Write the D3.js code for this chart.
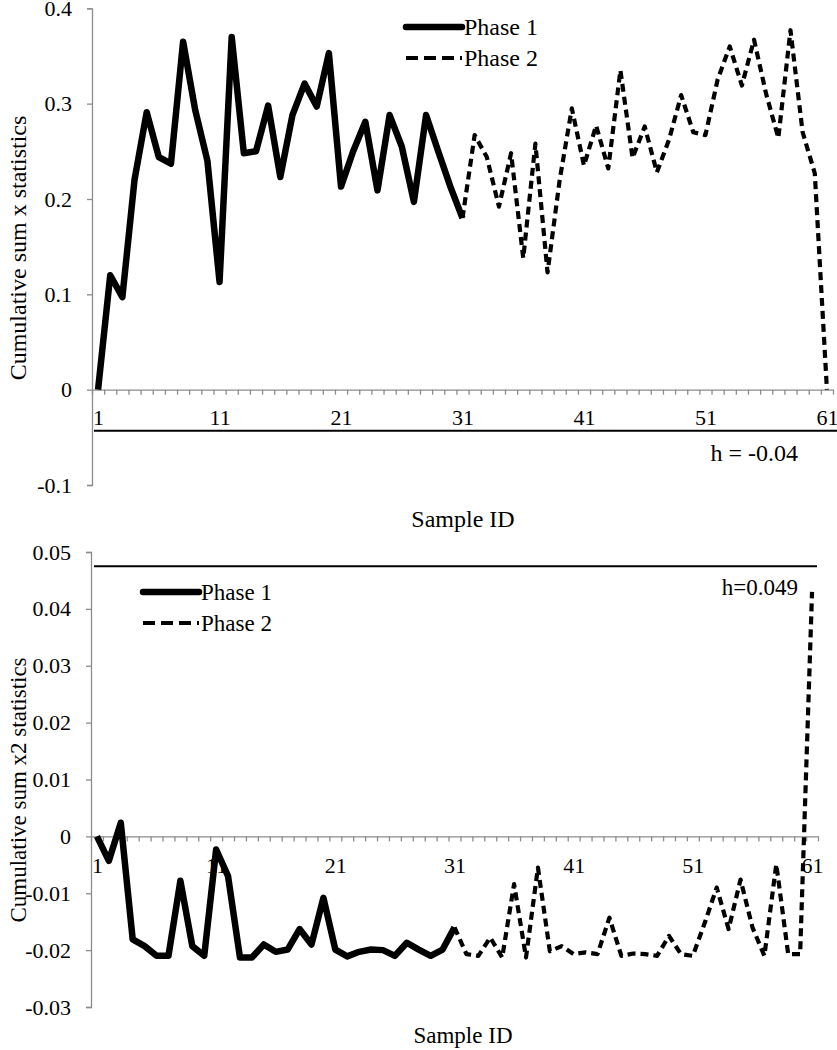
<!DOCTYPE html>
<html><head><meta charset="utf-8">
<script src="https://cdn.jsdelivr.net/npm/d3@7"></script>
<style>body{margin:0;background:#fff}svg{display:block}text{font-family:"Liberation Serif","Times New Roman",serif;fill:#000}</style>
</head><body><svg id="c" width="837" height="1050"></svg>
<script>
// ---------- data ----------
const xTickLabels = [1, 11, 21, 31, 41, 51, 61];
const phase1Ids = d3.range(1, 32);
const phase2Ids = d3.range(32, 62);
// Top chart: cumulative sum x statistics
const sumX_phase1 = [0, 0.12, 0.097, 0.22, 0.291, 0.244, 0.237, 0.365, 0.293, 0.24,
  0.113, 0.37, 0.248, 0.25, 0.298, 0.223, 0.288, 0.321, 0.297, 0.353,
  0.213, 0.25, 0.281, 0.209, 0.288, 0.255, 0.197, 0.288, 0.25, 0.213, 0.18];
const sumX_phase2 = [0.267, 0.244, 0.192, 0.248, 0.138, 0.258, 0.123, 0.22, 0.295,
  0.235, 0.277, 0.232, 0.335, 0.243, 0.276, 0.228, 0.262, 0.309, 0.27,
  0.267, 0.325, 0.36, 0.319, 0.367, 0.31, 0.264, 0.377, 0.27, 0.227, 0];
const sumX_yTicks = [-0.1, 0, 0.1, 0.2, 0.3, 0.4];
const sumX_h = -0.043;
const sumX_hLabel = "h = -0.04";
// Bottom chart: cumulative sum x2 statistics
const sumX2_phase1 = [0, -0.0043, 0.0024, -0.0181, -0.0193, -0.021, -0.021, -0.0078, -0.0193, -0.021,
  -0.0023, -0.007, -0.0213, -0.0213, -0.019, -0.0203, -0.0199, -0.0163, -0.019, -0.0108,
  -0.0199, -0.0211, -0.0203, -0.0199, -0.02, -0.021, -0.0187, -0.0199, -0.021, -0.0199, -0.016];
const sumX2_phase2 = [-0.0207, -0.021, -0.0178, -0.0213, -0.0084, -0.0213, -0.0055, -0.0202, -0.0193,
  -0.0207, -0.0204, -0.0207, -0.0143, -0.021, -0.0206, -0.0207, -0.021, -0.0175, -0.0207,
  -0.021, -0.0152, -0.009, -0.0163, -0.0076, -0.016, -0.021, -0.0049, -0.0207, -0.0207, 0.043];
const sumX2_yTicks = [-0.03, -0.02, -0.01, 0, 0.01, 0.02, 0.03, 0.04, 0.05];
const sumX2_h = 0.0475;
const sumX2_hLabel = "h=0.049";
const legendLabels = ["Phase 1", "Phase 2"];

// ---------- drawing ----------
const svg = d3.select("#c");
const AX = "#8c8c8c";
const TFS = 22;

function fmt(d) { return String(+d.toFixed(3)); }

function chart(cfg) {
  const FS = cfg.fs;
  const g = svg.append("g");
  const x = d3.scaleLinear().domain([0.5, 61.5]).range([cfg.x0, cfg.x1]);
  const y = d3.scaleLinear().domain(cfg.yDomain).range([cfg.yBottom, cfg.yTop]);
  const y0 = y(0);

  // y axis
  const ya = g.append("g").attr("transform", `translate(${cfg.x0},0)`)
    .call(d3.axisLeft(y).tickValues(cfg.yTicks).tickSize(5).tickPadding(15).tickFormat(fmt));
  ya.select(".domain").attr("stroke", AX).attr("stroke-width", 1.3);
  ya.selectAll(".tick line").attr("stroke", AX).attr("stroke-width", 1.3);
  ya.selectAll(".tick text").attr("font-size", TFS).attr("font-family", "Liberation Serif").attr("fill", "#000");

  // x axis (ticks at category boundaries)
  const xa = g.append("g").attr("transform", `translate(0,${y0})`)
    .call(d3.axisBottom(x).tickValues(d3.range(0.5, 62, 1)).tickSize(5).tickSizeOuter(0).tickFormat(""));
  xa.select(".domain").attr("stroke", AX).attr("stroke-width", 1.3);
  xa.selectAll(".tick line").attr("stroke", AX).attr("stroke-width", 1.3);
  // x labels
  const xl = g.append("g").attr("transform", `translate(0,${y0})`)
    .call(d3.axisBottom(x).tickValues(xTickLabels).tickSize(0).tickPadding(cfg.labelPad));
  xl.select(".domain").remove();
  xl.selectAll(".tick text").attr("font-size", TFS).attr("font-family", "Liberation Serif").attr("fill", "#000");

  // h line
  g.append("line").attr("x1", cfg.hx0).attr("x2", cfg.hx1)
    .attr("y1", y(cfg.h)).attr("y2", y(cfg.h)).attr("stroke", "#000").attr("stroke-width", 2);
  g.append("text").attr("x", cfg.hLabelX).attr("y", y(cfg.h) + cfg.hLabelDy)
    .attr("text-anchor", "end").attr("font-size", FS).text(cfg.hLabel);

  const line = d3.line().x(d => x(d[0])).y(d => y(d[1]));
  const p1 = phase1Ids.map((id, i) => [id, cfg.p1[i]]);
  const p2 = [p1[p1.length - 1]].concat(phase2Ids.map((id, i) => [id, cfg.p2[i]]));
  g.append("path").datum(p1).attr("d", line).attr("fill", "none").attr("stroke", "#000")
    .attr("stroke-width", 6.5).attr("stroke-linejoin", "round");
  g.append("path").datum(p2).attr("d", line).attr("fill", "none").attr("stroke", "#000")
    .attr("stroke-width", 4.2).attr("stroke-dasharray", "8,5").attr("stroke-linejoin", "round");

  // legend
  const lg = g.append("g");
  lg.append("line").attr("x1", cfg.legX).attr("x2", cfg.legX + 56).attr("y1", cfg.legY).attr("y2", cfg.legY)
    .attr("stroke", "#000").attr("stroke-width", 6.5).attr("stroke-linecap", "round");
  lg.append("line").attr("x1", cfg.legX).attr("x2", cfg.legX + 56).attr("y1", cfg.legY + 31).attr("y2", cfg.legY + 31)
    .attr("stroke", "#000").attr("stroke-width", 4.2).attr("stroke-dasharray", "12,6");
  legendLabels.forEach((t, i) => {
    lg.append("text").attr("x", cfg.legX + 58).attr("y", cfg.legY + i * 31).attr("dy", "0.35em")
      .attr("font-size", FS).text(t);
  });

  // axis titles
  g.append("text").attr("x", cfg.xTitleX).attr("y", cfg.xTitleY).attr("text-anchor", "middle")
    .attr("font-size", FS).text("Sample ID");
  g.append("text").attr("transform", `translate(${cfg.yTitleX},${cfg.yTitleY}) rotate(-90)`)
    .attr("text-anchor", "middle").attr("font-size", FS).text(cfg.yTitle);
}

chart({
  fs: 24,
  x0: 92, x1: 833, yDomain: [-0.1, 0.4], yBottom: 485, yTop: 8.3, yTicks: sumX_yTicks,
  p1: sumX_phase1, p2: sumX_phase2, h: sumX_h, hLabel: sumX_hLabel,
  hx0: 94, hx1: 837, hLabelX: 798, hLabelDy: 30, labelPad: 20,
  legX: 406, legY: 27, xTitleX: 463, xTitleY: 527,
  yTitleX: 26, yTitleY: 248, yTitle: "Cumulative sum x statistics"
});
chart({
  fs: 23,
  x0: 91, x1: 818, yDomain: [-0.03, 0.05], yBottom: 1007, yTop: 552, yTicks: sumX2_yTicks,
  p1: sumX2_phase1, p2: sumX2_phase2, h: sumX2_h, hLabel: sumX2_hLabel,
  hx0: 94, hx1: 817, hLabelX: 798, hLabelDy: 29, labelPad: 21,
  legX: 143, legY: 592, xTitleX: 463, xTitleY: 1043,
  yTitleX: 26, yTitleY: 790, yTitle: "Cumulative sum x2 statistics"
});
</script></body></html>
